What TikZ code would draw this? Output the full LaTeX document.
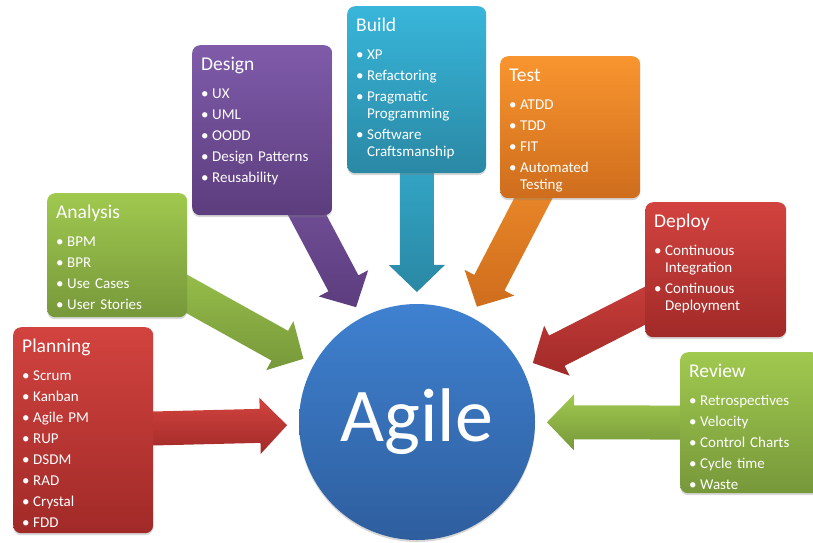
\documentclass[tikz,border=0pt]{standalone}
\usepackage{fontspec}
\setmainfont{Carlito}
\usetikzlibrary{calc,shadows,backgrounds}

\definecolor{redTop}{HTML}{D2433F}
\definecolor{redBot}{HTML}{A12A28}
\definecolor{greenTop}{HTML}{A0C94F}
\definecolor{greenBot}{HTML}{77983A}
\definecolor{purpleTop}{HTML}{7F5BAA}
\definecolor{purpleBot}{HTML}{5C3D7D}
\definecolor{aquaTop}{HTML}{38B6DA}
\definecolor{aquaBot}{HTML}{2A88A4}
\definecolor{orangeTop}{HTML}{F9952F}
\definecolor{orangeBot}{HTML}{CE6D1D}
\definecolor{blueTop}{HTML}{3F81D0}
\definecolor{blueBot}{HTML}{2E5E9E}

\newcommand{\stagehead}[1]{{\fontsize{19.5pt}{20pt}\selectfont #1}\par\setlength{\parskip}{4pt}\vspace{7pt}}
\newcommand{\itm}[1]{\par\hangindent=11pt\hangafter=1\noindent\makebox[11pt][l]{\textbullet}#1\par}
% fat shaded arrow from a stage box towards the hub
\newcommand{\fatarrow}[3]{%
  \coordinate (#1-tip) at ($(agile.center)!130pt!(#1.center)$);
  \coordinate (#1-base) at ($(#1-tip)!27pt!(#1.center)$);
  \path[top color=#2, bottom color=#3]
    ($(#1.center)!17pt!90:(#1-tip)$) -- ($(#1-base)!17pt!90:(#1-tip)$)
    -- ($(#1-base)!28pt!90:(#1-tip)$) -- (#1-tip)
    -- ($(#1-base)!28pt!-90:(#1-tip)$) -- ($(#1-base)!17pt!-90:(#1-tip)$)
    -- ($(#1.center)!17pt!-90:(#1-tip)$) -- cycle;}

\begin{document}
\begin{tikzpicture}[
	x=1pt, y=1pt,
	stage/.style={rounded corners=8pt, anchor=north west, inner xsep=9pt, inner ysep=0pt,
		text=white, align=left, text height=25pt,
		font=\fontsize{15pt}{17pt}\selectfont,
		drop shadow={shadow xshift=0pt, shadow yshift=-2pt, opacity=.3}},
	hub/.style={circle, minimum size=236pt, inner sep=0pt, text=white,
		top color=blueTop, bottom color=blueBot,
		font=\fontsize{76pt}{80pt}\selectfont,
		drop shadow={shadow xshift=0pt, shadow yshift=-2pt, opacity=.3}}]
\useasboundingbox (0,0) rectangle (813,-542);

\node[hub] (agile) at (417,-422) {\raisebox{-3pt}{Agile}};

\node[stage, top color=redTop, bottom color=redBot, text width=122pt, text depth=181pt] (plan) at (13,-327)
	{\stagehead{Planning}\itm{Scrum}\itm{Kanban}\itm{Agile PM}\itm{RUP}\itm{DSDM}\itm{RAD}\itm{Crystal}\itm{FDD}};
\node[stage, top color=greenTop, bottom color=greenBot, text width=122pt, text depth=99pt] (analysis) at (47,-193)
	{\stagehead{Analysis}\itm{BPM}\itm{BPR}\itm{Use Cases}\itm{User Stories}};
\node[stage, top color=purpleTop, bottom color=purpleBot, text width=122pt, text depth=145pt] (design) at (192,-45)
	{\stagehead{Design}\itm{UX}\itm{UML}\itm{OODD}\itm{Design Patterns}\itm{Reusability}};
\node[stage, top color=aquaTop, bottom color=aquaBot, text width=121pt, text depth=142pt] (build) at (347,-6)
	{\stagehead{Build}\itm{XP}\itm{Refactoring}\itm{Pragmatic\hfil\break Programming}\itm{Software\hfil\break Craftsmanship}};
\node[stage, top color=orangeTop, bottom color=orangeBot, text width=122pt, text depth=117pt] (test) at (500,-56)
	{\stagehead{Test}\itm{ATDD}\itm{TDD}\itm{FIT}\itm{Automated\hfil\break Testing}};
\node[stage, top color=redTop, bottom color=redBot, text width=123pt, text depth=110pt] (deploy) at (645,-202)
	{\stagehead{Deploy}\itm{Continuous\hfil\break Integration}\itm{Continuous\hfil\break Deployment}};
\node[stage, top color=greenTop, bottom color=greenBot, text width=122pt, text depth=116pt] (review) at (680,-352)
	{\stagehead{Review}\itm{Retrospectives}\itm{Velocity}\itm{Control Charts}\itm{Cycle time}\itm{Waste}};

\begin{pgfonlayer}{background}
\fill[white] (0,0) rectangle (813,-542);
\fatarrow{plan}{redTop}{redBot}
\fatarrow{analysis}{greenTop}{greenBot}
\fatarrow{design}{purpleTop}{purpleBot}
\fatarrow{build}{aquaTop}{aquaBot}
\fatarrow{test}{orangeTop}{orangeBot}
\fatarrow{deploy}{redTop}{redBot}
\fatarrow{review}{greenTop}{greenBot}
\end{pgfonlayer}
\end{tikzpicture}
\end{document}
